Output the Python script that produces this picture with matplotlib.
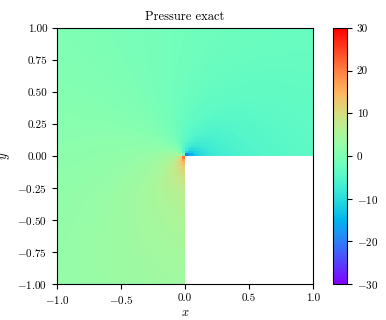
import numpy as np
import matplotlib
matplotlib.use("Agg")
import matplotlib.pyplot as plt

plt.rcParams["font.family"] = "serif"
plt.rcParams["font.serif"] = ["cmr10"]
plt.rcParams["mathtext.fontset"] = "cm"
plt.rcParams["axes.formatter.use_mathtext"] = True

# exact pressure of the singular L-shape solution
lam = 0.54448373678246
omega = 3 * np.pi / 2
n = 100
vmin, vmax = -30, 30
xticks = [-1.0, -0.5, 0.0, 0.5, 1.0]
yticks = [-1.0, -0.75, -0.5, -0.25, 0.0, 0.25, 0.5, 0.75, 1.0]
cticks = [-30, -20, -10, 0, 10, 20, 30]

xc = np.linspace(-1, 1, n + 1)
xc = 0.5 * (xc[1:] + xc[:-1])
X, Y = np.meshgrid(xc, xc)
r = np.sqrt(X**2 + Y**2)
th = np.mod(np.arctan2(Y, X), 2 * np.pi)
b = 1 - lam
P = 4 * lam * r**(lam - 1) * (np.cos(lam * omega) * np.cos(b * th) + b * np.sin(b * th)) / b
P[(X > 0) & (Y < 0)] = np.nan

fig = plt.figure(figsize=(3.86, 3.2), dpi=100)
ax = fig.add_axes([0.1477, 0.1125, 0.6632, 0.8])
cax = fig.add_axes([0.8627, 0.1125, 0.0363, 0.8])

im = ax.imshow(P, origin="lower", extent=[-1, 1, -1, 1], cmap="rainbow",
               vmin=vmin, vmax=vmax, interpolation="nearest", aspect="auto")
ax.set_xlim(-1, 1)
ax.set_ylim(-1, 1)
ax.set_xticks(xticks)
ax.set_yticks(yticks)
ax.set_xticklabels(["%.1f" % v if v >= 0 else r"$-$%.1f" % -v for v in xticks])
ax.set_yticklabels(["%.2f" % v if v >= 0 else r"$-$%.2f" % -v for v in yticks])
ax.tick_params(labelsize=8)
ax.set_xlabel("$x$", fontsize=9, labelpad=1)
ax.set_ylabel("$y$", fontsize=9)
ax.set_title("Pressure exact", fontsize=9)

cb = fig.colorbar(im, cax=cax, ticks=cticks)
cb.ax.set_yticklabels([str(v) if v >= 0 else r"$-$%d" % -v for v in cticks])
cb.ax.tick_params(labelsize=8)

fig.savefig("out.png", dpi=100)
